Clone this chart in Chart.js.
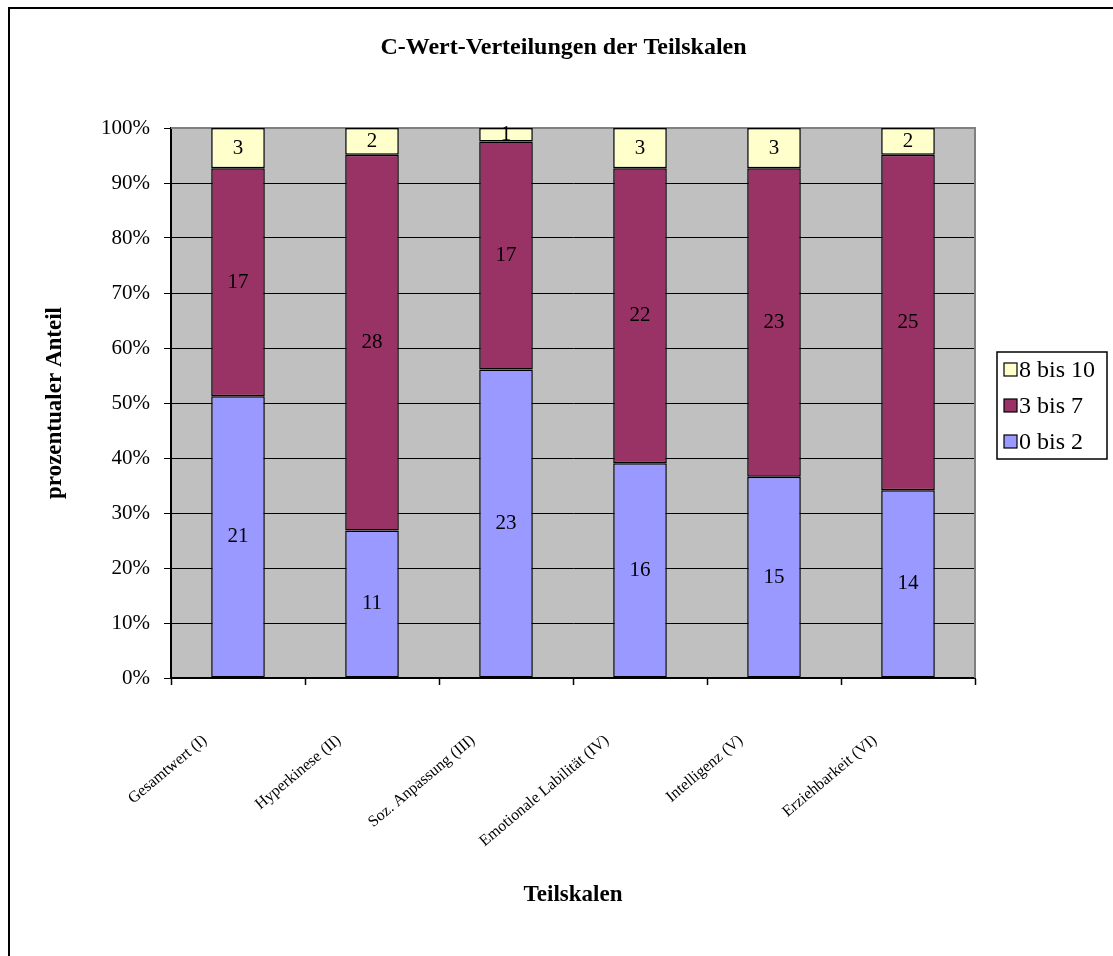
<!DOCTYPE html>
<html lang="de">
<head>
    <meta charset="UTF-8" />
    <title>C-Wert-Verteilungen der Teilskalen</title>
    <script src="https://cdn.jsdelivr.net/npm/chart.js"></script>
    <style>
        body { margin: 0; background: #fff; }
        #wrap { position: relative; width: 1113px; height: 956px; }
    </style>
</head>
<body>
<div id="wrap"><canvas id="cwertChart"></canvas></div>
<script>
    // Teilskalen und Anzahl je C-Wert-Gruppe
    const categories = ['Gesamtwert (I)', 'Hyperkinese (II)', 'Soz. Anpassung (III)', 'Emotionale Labilität (IV)', 'Intelligenz (V)', 'Erziehbarkeit (VI)'];
    const group0to2 = [21, 11, 23, 16, 15, 14];
    const group3to7 = [17, 28, 17, 22, 23, 25];
    const group8to10 = [3, 2, 1, 3, 3, 2];
    const seriesNames = ['0 bis 2', '3 bis 7', '8 bis 10'];
    const yTicks = [0, 10, 20, 30, 40, 50, 60, 70, 80, 90, 100];
    const chartTitle = 'C-Wert-Verteilungen der Teilskalen';

    const colors = ['#9999FF', '#993366', '#FFFFCC'];
    const counts = [group0to2, group3to7, group8to10];
    const totals = categories.map((c, i) => group0to2[i] + group3to7[i] + group8to10[i]);
    const toPercent = arr => arr.map((v, i) => v / totals[i] * 100);

    const serif = 'Liberation Serif, Times New Roman, serif';

    // grauer Hintergrund, Rahmen, Titel, Werte in den Balken, Legende
    const decorations = {
        id: 'decorations',
        beforeDraw(chart) {
            const { ctx, chartArea: a } = chart;
            ctx.save();
            ctx.fillStyle = '#fff';
            ctx.fillRect(0, 0, chart.width, chart.height);
            ctx.fillStyle = '#C0C0C0';
            ctx.fillRect(a.left, a.top, a.right - a.left, a.bottom - a.top);
            ctx.restore();
        },
        beforeDatasetsDraw(chart) {
            const { ctx, chartArea: a } = chart;
            ctx.save();
            ctx.strokeStyle = '#808080';
            ctx.lineWidth = 2;
            ctx.beginPath();
            ctx.moveTo(a.left, a.top);
            ctx.lineTo(a.right, a.top);
            ctx.lineTo(a.right, a.bottom);
            ctx.stroke();
            ctx.restore();
        },
        afterDatasetsDraw(chart) {
            const { ctx } = chart;
            ctx.save();
            ctx.font = '21px ' + serif;
            ctx.fillStyle = '#000';
            ctx.textAlign = 'center';
            ctx.textBaseline = 'middle';
            chart.data.datasets.forEach((ds, i) => {
                chart.getDatasetMeta(i).data.forEach((bar, j) => {
                    ctx.fillText(String(counts[i][j]), bar.x, (bar.y + bar.base) / 2);
                });
            });
            ctx.restore();
        },
        afterDraw(chart) {
            const { ctx } = chart;
            ctx.save();
            // äußerer Rahmen
            ctx.strokeStyle = '#000';
            ctx.lineWidth = 2;
            ctx.beginPath();
            ctx.moveTo(9, chart.height);
            ctx.lineTo(9, 8);
            ctx.lineTo(chart.width, 8);
            ctx.stroke();

            // Titel
            ctx.fillStyle = '#000';
            ctx.font = 'bold 24px ' + serif;
            ctx.textAlign = 'center';
            ctx.textBaseline = 'middle';
            ctx.fillText(chartTitle, chart.width / 2 + 7, 48);

            // Legende
            const lx = 997, ly = 352, lw = 110, lh = 107;
            ctx.lineWidth = 1.5;
            ctx.strokeRect(lx, ly, lw, lh);
            ctx.font = '24px ' + serif;
            ctx.textAlign = 'left';
            const order = [2, 1, 0];
            order.forEach((k, r) => {
                const cy = ly + 18 + r * 36;
                ctx.fillStyle = colors[k];
                ctx.fillRect(lx + 7, cy - 7, 13, 13);
                ctx.lineWidth = 1.2;
                ctx.strokeStyle = '#000';
                ctx.strokeRect(lx + 7, cy - 7, 13, 13);
                ctx.fillStyle = '#000';
                ctx.fillText(seriesNames[k], lx + 22, cy + 1);
            });
            ctx.restore();
        }
    };

    new Chart(document.getElementById('cwertChart'), {
        type: 'bar',
        data: {
            labels: categories,
            datasets: counts.map((arr, i) => ({
                label: seriesNames[i],
                data: toPercent(arr),
                backgroundColor: colors[i],
                borderColor: '#000',
                borderWidth: 1.5,
                borderSkipped: false,
                barPercentage: 0.4,
                categoryPercentage: 1
            }))
        },
        options: {
            responsive: true,
            maintainAspectRatio: false,
            animation: false,
            layout: { padding: { left: 41, right: 138, top: 128, bottom: 47 } },
            plugins: {
                legend: { display: false },
                tooltip: { enabled: false },
                title: { display: false }
            },
            scales: {
                x: {
                    stacked: true,
                    afterFit(scale) { scale.height = 231; },
                    grid: {
                        offset: true,
                        drawOnChartArea: false,
                        drawTicks: true,
                        tickLength: 7,
                        tickWidth: 1.5,
                        color: '#000'
                    },
                    border: { color: '#000', width: 2 },
                    ticks: {
                        autoSkip: false,
                        minRotation: 40,
                        maxRotation: 40,
                        padding: 46,
                        labelOffset: -33,
                        color: '#000',
                        font: { family: serif, size: 16 }
                    },
                    title: {
                        display: true,
                        text: 'Teilskalen',
                        color: '#000',
                        padding: 0,
                        font: { family: serif, size: 23, weight: 'bold' }
                    }
                },
                y: {
                    stacked: true,
                    min: 0,
                    max: 100,
                    afterFit(scale) { scale.width = 130; },
                    afterBuildTicks(scale) { scale.ticks = yTicks.map(v => ({ value: v })); },
                    grid: {
                        color: ctx => (ctx.tick && ctx.tick.value === 100 ? '#808080' : '#000'),
                        lineWidth: 1,
                        tickLength: 7,
                        tickColor: '#000'
                    },
                    border: { color: '#000', width: 2 },
                    ticks: {
                        padding: 14,
                        color: '#000',
                        font: { family: serif, size: 21 },
                        callback: v => v + '%'
                    },
                    title: {
                        display: true,
                        text: 'prozentualer Anteil',
                        color: '#000',
                        padding: 0,
                        font: { family: serif, size: 23, weight: 'bold' }
                    }
                }
            }
        },
        plugins: [decorations]
    });
</script>
</body>
</html>
